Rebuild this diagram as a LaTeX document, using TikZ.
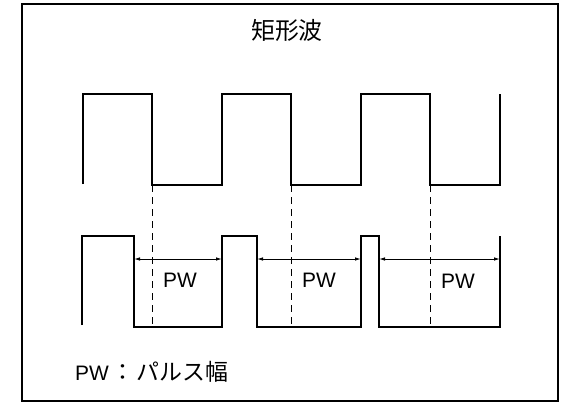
\documentclass[tikz,border=0pt]{standalone}
\usepackage{fontspec}
\setmainfont{Liberation Sans}
\newfontfamily\cjk{Noto Sans CJK JP}
\usetikzlibrary{arrows.meta}
\begin{document}
\begin{tikzpicture}[x=1bp,y=-1bp,
  wave/.style={line width=2.5bp, line join=miter},
  frame/.style={line width=1.3bp},
  guide/.style={line width=0.9bp, dash pattern=on 7bp off 5bp},
  dim/.style={line width=0.9bp, {Latex[length=6bp,width=3.5bp]}-{Latex[length=6bp,width=3.5bp]}},
  lbl/.style={font=\fontsize{21}{23}\selectfont, inner sep=0pt}]
\useasboundingbox (0,0) rectangle (564,403);
\draw[frame] (22,4) rectangle (558,401);
\node[inner sep=0pt, font=\cjk\fontsize{24}{26}\selectfont] (title) at (287,30) {矩形波};
% upper square wave
\coordinate (u1) at (152,185);
\coordinate (u2) at (291,185);
\coordinate (u3) at (430,185);
\draw[wave] (83,184) -- (83,94) -- (152,94) -- (u1) -- (222,185) -- (222,94) -- (291,94) -- (u2)
  -- (361,185) -- (361,94) -- (430,94) -- (u3) -- (500,185) -- (500,94);
% lower pulse wave
\coordinate (b1) at (152,327);
\coordinate (b2) at (291,327);
\coordinate (b3) at (430,327);
\coordinate (f1) at (134,259);
\coordinate (r2) at (222,259);
\coordinate (f2) at (257,259);
\coordinate (r3) at (361,259);
\coordinate (f3) at (379,259);
\coordinate (e4) at (500,259);
\draw[wave] (82,325) -- (82,236) -- (134,236) -- (134,327) -- (222,327) -- (222,236) -- (257,236) -- (257,327)
  -- (361,327) -- (361,236) -- (379,236) -- (379,327) -- (500,327) -- (500,236);
% guides
\draw[guide] (u1) -- (b1);
\draw[guide] (u2) -- (b2);
\draw[guide] (u3) -- (b3);
% dimension lines
\draw[dim] (f1) -- (r2);
\draw[dim] (f2) -- (r3);
\draw[dim] (f3) -- (e4);
\node[lbl] (pw1) at (180,280) {PW};
\node[lbl] (pw2) at (319,280) {PW};
\node[lbl] (pw3) at (458,281) {PW};
\node[inner sep=0pt, anchor=west] (legend) at (75,372)
  {\fontsize{21}{23}\selectfont PW\hspace{3bp}{\cjk\fontsize{23}{25}\selectfont ：\hspace{2bp}パルス幅}};
\end{tikzpicture}
\end{document}
